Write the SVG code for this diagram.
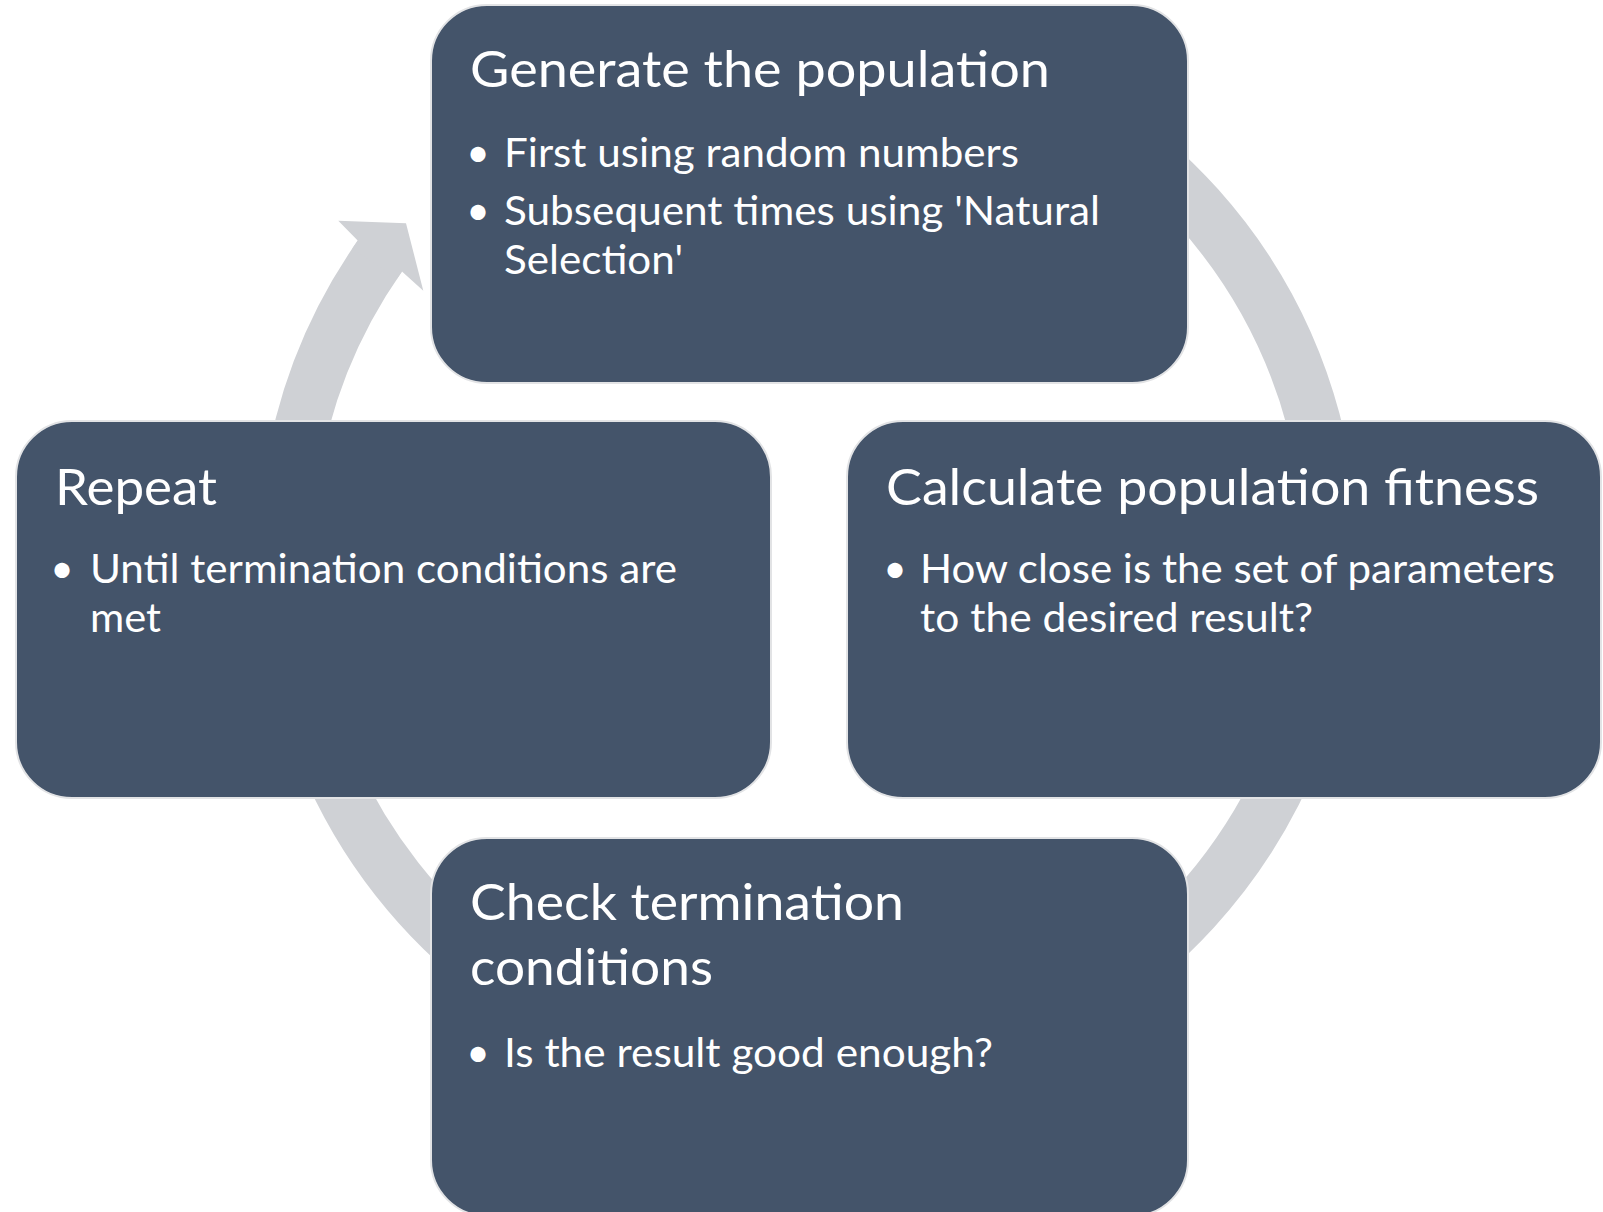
<svg xmlns="http://www.w3.org/2000/svg" width="1603" height="1212" viewBox="0 0 1603 1212">
<style>
.box{fill:#44546A;stroke:#E2E3E5;stroke-width:2}
.t{fill:#FFFFFF;font-family:Lato,"Liberation Sans",sans-serif;font-size:51px}
.b{fill:#FFFFFF;font-family:Lato,"Liberation Sans",sans-serif;font-size:40.5px}
.dot{fill:#FFFFFF;font-family:Lato,"Liberation Sans",sans-serif;font-size:40.5px;text-anchor:middle}
.ring{fill:none;stroke:#CFD1D5;stroke-width:54}
.head{fill:#CFD1D5}
</style>
<rect width="1603" height="1212" fill="#FFFFFF"/>
<g id="connectors">
<path class="ring" d="M472.1,155.4 A523,523 0 1 1 379.9,256.0"/>
<polygon class="head" points="352.3,248.4 357.7,240.5 338.3,220.7 406,223.3 423.3,290.7 402.0,271.5 397.1,278.6"/>
</g>
<g id="node-generate">
<rect class="box" x="431" y="5" width="757" height="378" rx="56" ry="56"/>
<text class="t" x="470" y="87" textLength="580" lengthAdjust="spacingAndGlyphs">Generate the population</text>
<text class="dot" x="478" y="167">•</text>
<text class="b" x="504" y="167" textLength="515" lengthAdjust="spacingAndGlyphs">First using random numbers</text>
<text class="dot" x="478" y="225">•</text>
<text class="b" x="504" y="225" textLength="596" lengthAdjust="spacingAndGlyphs">Subsequent times using 'Natural</text>
<text class="b" x="504" y="274" textLength="179" lengthAdjust="spacingAndGlyphs">Selection'</text>
</g>
<g id="node-calculate">
<rect class="box" x="847" y="421" width="754" height="377" rx="56" ry="56"/>
<text class="t" x="886" y="505" textLength="653" lengthAdjust="spacingAndGlyphs">Calculate population fitness</text>
<text class="dot" x="895" y="583">•</text>
<text class="b" x="920" y="583" textLength="635" lengthAdjust="spacingAndGlyphs">How close is the set of parameters</text>
<text class="b" x="920" y="632" textLength="393" lengthAdjust="spacingAndGlyphs">to the desired result?</text>
</g>
<g id="node-check">
<rect class="box" x="431" y="838" width="757" height="378" rx="56" ry="56"/>
<text class="t" x="470" y="920" textLength="434" lengthAdjust="spacingAndGlyphs">Check termination</text>
<text class="t" x="470" y="985" textLength="243" lengthAdjust="spacingAndGlyphs">conditions</text>
<text class="dot" x="478" y="1067">•</text>
<text class="b" x="504" y="1067" textLength="489" lengthAdjust="spacingAndGlyphs">Is the result good enough?</text>
</g>
<g id="node-repeat">
<rect class="box" x="16" y="421" width="755" height="377" rx="56" ry="56"/>
<text class="t" x="55" y="505" textLength="162" lengthAdjust="spacingAndGlyphs">Repeat</text>
<text class="dot" x="62" y="583">•</text>
<text class="b" x="90" y="583" textLength="587" lengthAdjust="spacingAndGlyphs">Until termination conditions are</text>
<text class="b" x="90" y="632" textLength="71" lengthAdjust="spacingAndGlyphs">met</text>
</g>
</svg>
